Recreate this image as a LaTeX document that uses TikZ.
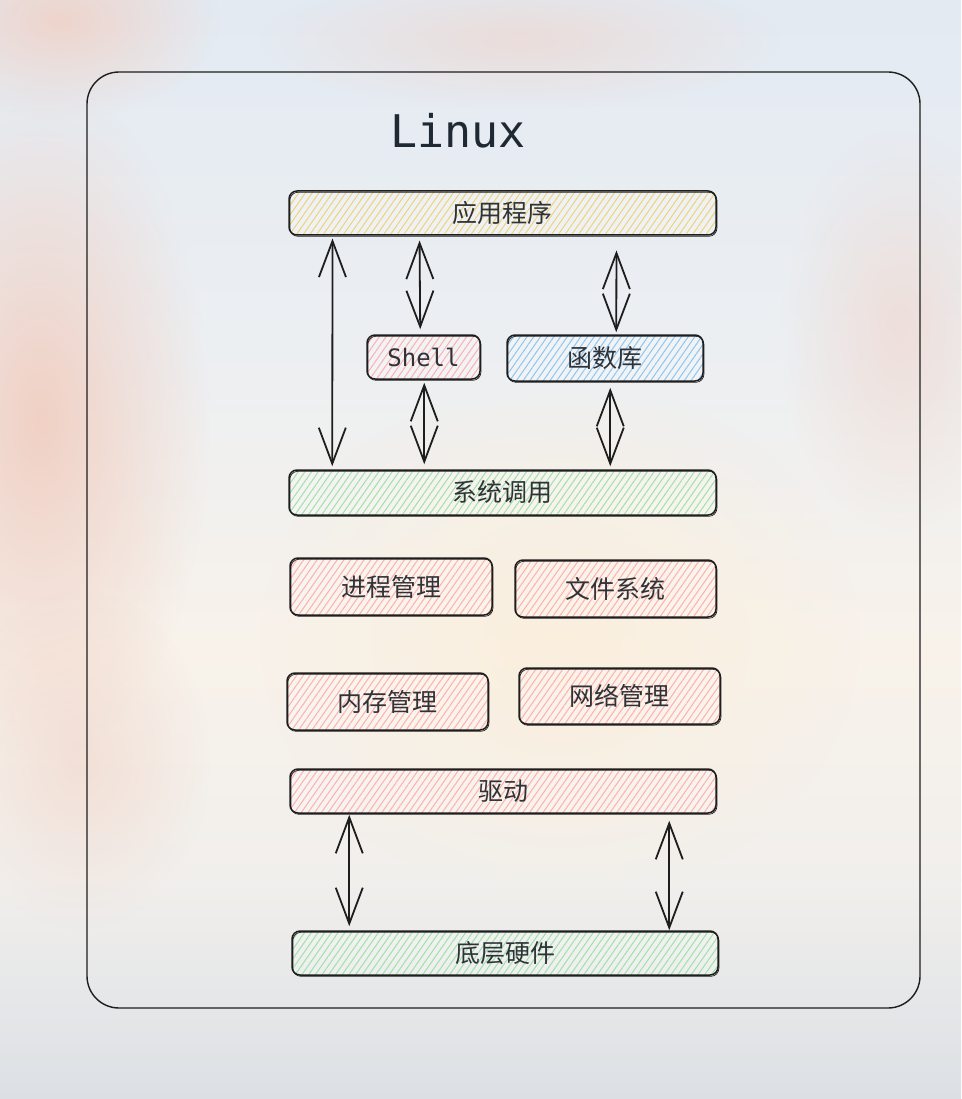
\documentclass[tikz,border=0pt]{standalone}
\usepackage{fontspec}
\newfontfamily\cjk{Noto Sans CJK SC}
\newfontfamily\mono{DejaVu Sans Mono}
\usetikzlibrary{arrows.meta,patterns.meta,fadings}
\definecolor{ink}{HTML}{1E1E1E}
\definecolor{txt}{HTML}{2F3338}
\definecolor{ttl}{HTML}{1F2933}
\definecolor{hy}{HTML}{EFD27A}
\definecolor{hr}{HTML}{FFAFAF}
\definecolor{hb}{HTML}{8EC6F2}
\definecolor{hg}{HTML}{9EE2A8}
\definecolor{bgA}{HTML}{E3EAF2}
\definecolor{bgB}{HTML}{ECEFF2}
\definecolor{bgC}{HTML}{F8F2EA}
\definecolor{bgD}{HTML}{F1EFEC}
\definecolor{bgE}{HTML}{DCE0E5}
\definecolor{pinkish}{HTML}{F1CFC2}
\definecolor{warm}{HTML}{FBEFDC}
\tikzfading[name=soft, inner color=transparent!0, outer color=transparent!100]
\begin{document}
\begin{tikzpicture}[x=1pt,y=-1pt,
  box/.style={draw=ink, line width=1.5pt, rounded corners=8pt, inner sep=0pt,
    text=txt, font=\cjk\fontsize{25}{28}\selectfont,
    preaction={fill=white, fill opacity=0.3},
    postaction={draw=ink, line width=0.7pt, transform canvas={shift={(0.9pt,-1.3pt)}}}},
  hatch/.style={pattern={Lines[angle=55,distance=5.5pt,line width=1pt]}, pattern color=#1},
  monotext/.style={font=\mono\fontsize{24}{28}\selectfont},
  dbl/.style={draw=ink, line width=1.8pt,
    {Straight Barb[length=36pt,width=27pt]}-{Straight Barb[length=36pt,width=27pt]}},
  framebox/.style={draw=ink, line width=1.4pt, rounded corners=32pt, inner sep=0pt}
]
\useasboundingbox (0,0) rectangle (961,1099);
% background
\fill[top color=bgA, bottom color=bgB] (0,0) rectangle (961,350);
\fill[top color=bgB, bottom color=bgC] (0,349) rectangle (961,650);
\fill[top color=bgC, bottom color=bgD] (0,649) rectangle (961,880);
\fill[top color=bgD, bottom color=bgE] (0,879) rectangle (961,1099);
\fill[pinkish, path fading=soft, fill opacity=0.95] (40,420) ellipse [x radius=170, y radius=340];
\fill[pinkish, path fading=soft, fill opacity=0.8] (60,20) ellipse [x radius=160, y radius=100];
\fill[pinkish, path fading=soft, fill opacity=0.5] (520,40) ellipse [x radius=260, y radius=70];
\fill[warm, path fading=soft, fill opacity=0.9] (560,640) ellipse [x radius=300, y radius=260];
\fill[pinkish, path fading=soft, fill opacity=0.5] (900,330) ellipse [x radius=120, y radius=200];
\fill[pinkish, path fading=soft, fill opacity=0.5] (80,760) ellipse [x radius=130, y radius=170];
% frame
\node[framebox, minimum width=833, minimum height=936] (frame) at (503.5,540) {};
\node[text=ttl, font=\mono\fontsize{45}{50}\selectfont] (title) at (458,131) {Linux};
% boxes
\node[box, hatch=hy, minimum width=427, minimum height=44] (app) at (502.5,213) {应用程序};
\node[box, hatch=hr, monotext, minimum width=113, minimum height=44] (shell) at (423.5,357) {Shell};
\node[box, hatch=hb, minimum width=196, minimum height=46] (lib) at (605,358) {函数库};
\node[box, hatch=hg, minimum width=427, minimum height=45] (sys) at (502.5,492.5) {系统调用};
\node[box, hatch=hr, minimum width=202, minimum height=57] (proc) at (391,586.5) {进程管理};
\node[box, hatch=hr, minimum width=201, minimum height=57] (fs) at (615.5,588.5) {文件系统};
\node[box, hatch=hr, minimum width=201, minimum height=57] (mem) at (387.5,701.5) {内存管理};
\node[box, hatch=hr, minimum width=201, minimum height=56] (net) at (619.5,696) {网络管理};
\node[box, hatch=hr, minimum width=426, minimum height=44] (drv) at (503,791) {驱动};
\node[box, hatch=hg, minimum width=426, minimum height=44] (hw) at (505,953) {底层硬件};
% arrows
\draw[dbl, shorten <=3pt, shorten >=3pt] ([xshift=44pt]app.south west) -- ([xshift=44pt]sys.north west);
\draw[dbl, shorten <=5pt, shorten >=5pt] ([xshift=131pt]app.south west) -- ([xshift=54pt]shell.north west);
\draw[dbl, shorten <=3pt, shorten >=5pt] ([xshift=58pt]shell.south west) -- ([xshift=136pt]sys.north west);
\draw[dbl, shorten <=15pt, shorten >=2pt] ([xshift=328pt]app.south west) -- ([xshift=110pt]lib.north west);
\draw[dbl, shorten <=6pt, shorten >=3pt] ([xshift=104pt]lib.south west) -- ([xshift=322pt]sys.north west);
\draw[dbl, shorten <=1pt, shorten >=4pt] ([xshift=60pt]drv.south west) -- ([xshift=58pt]hw.north west);
\draw[dbl, shorten <=7pt, shorten >=0pt] ([xshift=380pt]drv.south west) -- ([xshift=378pt]hw.north west);
\end{tikzpicture}
\end{document}
